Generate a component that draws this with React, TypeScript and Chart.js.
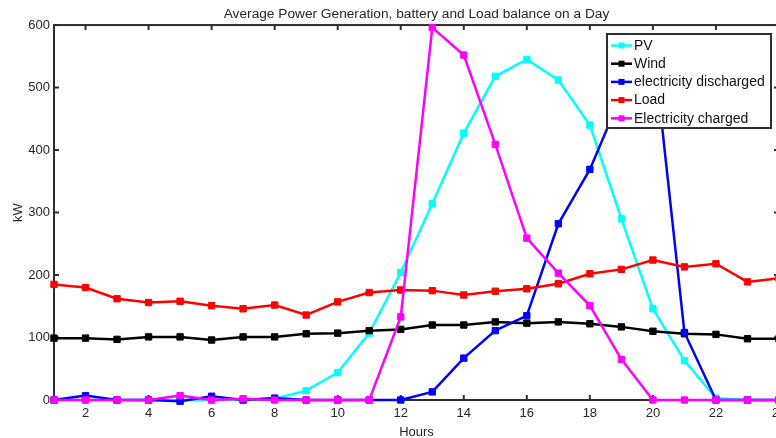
import React, { useEffect, useRef } from "react";
import { Chart, registerables } from "chart.js";

Chart.register(...registerables);

const titleText = "Average Power Generation, battery and Load balance on a Day";
const hours = [1, 2, 3, 4, 5, 6, 7, 8, 9, 10, 11, 12, 13, 14, 15, 16, 17, 18, 19, 20, 21, 22, 23, 24];
const xTicks = [2, 4, 6, 8, 10, 12, 14, 16, 18, 20, 22, 24];
const yTicks = [0, 100, 200, 300, 400, 500, 600];

const seriesLabels = ["PV", "Wind", "electricity discharged", "Load", "Electricity charged"];
const seriesColors = ["#00ffff", "#000000", "#0000ff", "#ff0000", "#ff00ff"];

const pv = [0, 0, 0, 0, 0, 0, 0, 2, 15, 44, 107, 204, 314, 427, 518, 545, 512, 440, 290, 146, 63, 3, 0, 0];
const wind = [99, 99, 97, 101, 101, 96, 101, 101, 106, 107, 111, 113, 120, 120, 125, 123, 125, 122, 117, 110, 106, 105, 98, 98];
const discharged = [0, 7, 0, 0, -2, 6, 0, 3, 0, 0, 0, 0, 13, 67, 111, 135, 282, 369, 488, 573, 108, 0, 0, 0];
const load = [185, 180, 162, 156, 158, 151, 146, 152, 136, 157, 172, 176, 175, 168, 174, 178, 186, 202, 209, 224, 213, 218, 189, 195];
const charged = [0, 0, 0, 0, 7, 0, 2, 0, 0, 0, 0, 133, 596, 552, 409, 259, 203, 151, 65, 0, 0, 0, 0, 0];

const seriesValues = [pv, wind, discharged, load, charged];

const FONT = "'Liberation Sans', Arial, sans-serif";
const AXIS_COLOR = "#2e2e2e";
const TEXT_COLOR = "#262626";

const framePlugin = {
  id: "matlabFrame",
  beforeDatasetsDraw(chart: any) {
    const { ctx, chartArea } = chart;
    const { left, right, top, bottom } = chartArea;
    const xs = chart.scales.x;
    const ys = chart.scales.y;
    ctx.save();
    ctx.strokeStyle = AXIS_COLOR;
    ctx.lineWidth = 2;
    ctx.strokeRect(left, top, right - left, bottom - top);
    const tl = 5;
    ctx.beginPath();
    xTicks.forEach((v) => {
      const px = xs.getPixelForValue(v);
      ctx.moveTo(px, bottom);
      ctx.lineTo(px, bottom - tl);
      ctx.moveTo(px, top);
      ctx.lineTo(px, top + tl);
    });
    yTicks.forEach((v) => {
      const py = ys.getPixelForValue(v);
      ctx.moveTo(left, py);
      ctx.lineTo(left + tl, py);
      ctx.moveTo(right, py);
      ctx.lineTo(right - tl, py);
    });
    ctx.stroke();
    ctx.restore();
  },
  afterDraw(chart: any) {
    const { ctx } = chart;
    const boxLeft = 607;
    const boxTop = 34;
    const boxW = 164;
    const boxH = 94;
    ctx.save();
    ctx.fillStyle = "#ffffff";
    ctx.fillRect(boxLeft, boxTop, boxW, boxH);
    ctx.strokeStyle = AXIS_COLOR;
    ctx.lineWidth = 2;
    ctx.strokeRect(boxLeft, boxTop, boxW, boxH);
    ctx.font = `14px ${FONT}`;
    ctx.textBaseline = "middle";
    ctx.textAlign = "left";
    chart.data.datasets.forEach((ds: any, i: number) => {
      const cy = boxTop + 11.5 + i * 18.2;
      ctx.strokeStyle = ds.borderColor;
      ctx.lineWidth = 2.5;
      ctx.beginPath();
      ctx.moveTo(boxLeft + 4, cy);
      ctx.lineTo(boxLeft + 25, cy);
      ctx.stroke();
      ctx.fillStyle = ds.borderColor;
      ctx.fillRect(boxLeft + 11.5, cy - 3, 6, 6);
      ctx.fillStyle = "#111111";
      ctx.fillText(ds.label, boxLeft + 27, cy + 0.5);
    });
    ctx.restore();
  },
};

export default function App() {
  const ref = useRef<HTMLCanvasElement | null>(null);

  useEffect(() => {
    if (!ref.current) return;
    const datasets = seriesLabels.map((label, i) => ({
      label,
      data: hours.map((h, j) => ({ x: h, y: seriesValues[i][j] })),
      borderColor: seriesColors[i],
      backgroundColor: seriesColors[i],
      pointBackgroundColor: seriesColors[i],
      pointBorderColor: seriesColors[i],
      borderWidth: 2.5,
      pointStyle: "rect",
      pointRadius: 4.5,
      pointBorderWidth: 1,
      tension: 0,
      fill: false,
      clip: false as any,
      order: seriesLabels.length - i,
    }));

    const chart = new Chart(ref.current, {
      type: "line",
      data: { datasets },
      plugins: [framePlugin],
      options: {
        responsive: false,
        animation: false,
        devicePixelRatio: 1,
        layout: { padding: { left: 0, right: 21, top: 0, bottom: 0 } },
        plugins: {
          legend: { display: false },
          tooltip: { enabled: false },
          title: {
            display: true,
            text: titleText,
            fullSize: false,
            color: TEXT_COLOR,
            font: { family: FONT, size: 13.7, weight: "normal" },
            padding: { top: 5.8, bottom: 2.8 },
          },
        },
        scales: {
          x: {
            type: "linear",
            min: 1,
            max: 24,
            afterBuildTicks: (scale: any) => {
              scale.ticks = xTicks.map((v) => ({ value: v }));
            },
            afterFit: (scale: any) => {
              scale.height = 45;
            },
            grid: { display: false, drawTicks: false },
            border: { display: false },
            ticks: {
              color: TEXT_COLOR,
              font: { family: FONT, size: 13 },
              padding: 5.5,
              maxRotation: 0,
              autoSkip: false,
            },
            title: {
              display: true,
              text: "Hours",
              color: TEXT_COLOR,
              font: { family: FONT, size: 13 },
              padding: 5.2,
            },
          },
          y: {
            min: 0,
            max: 600,
            afterBuildTicks: (scale: any) => {
              scale.ticks = yTicks.map((v) => ({ value: v }));
            },
            afterFit: (scale: any) => {
              scale.width = 54;
            },
            grid: { display: false, drawTicks: false },
            border: { display: false },
            ticks: {
              color: TEXT_COLOR,
              font: { family: FONT, size: 13 },
              padding: 4,
            },
            title: {
              display: true,
              text: "kW",
              color: TEXT_COLOR,
              font: { family: FONT, size: 13 },
              padding: { top: 11, bottom: 0 },
            },
          },
        },
      },
    });
    return () => chart.destroy();
  }, []);

  return (
    <div
      style={{
        position: "fixed",
        left: 0,
        top: 0,
        width: 776,
        height: 438,
        overflow: "hidden",
        background: "#ffffff",
      }}
    >
      <div style={{ position: "relative", width: 800, height: 445 }}>
        <canvas ref={ref} width={800} height={445} style={{ display: "block" }} />
      </div>
    </div>
  );
}
